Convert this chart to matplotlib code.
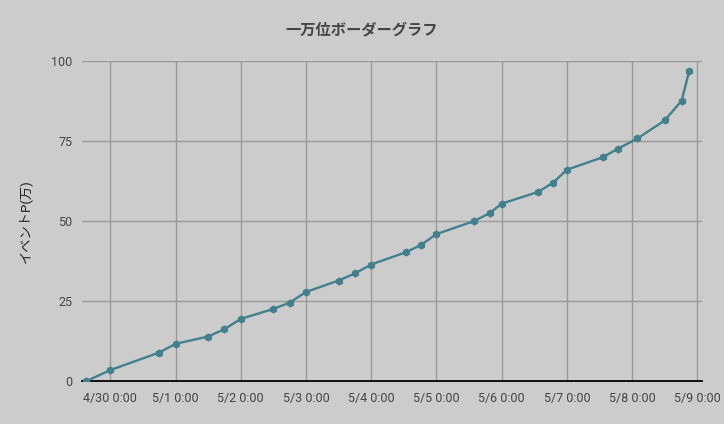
import numpy as np
import pandas as pd
import matplotlib
matplotlib.use('Agg')
import matplotlib.pyplot as plt
import matplotlib.dates as mdates

plt.rcParams['font.family'] = ['Roboto', 'Noto Sans CJK JP', 'DejaVu Sans']

# border data (time, points in 万)
times = ['2020-04-29 15:00', '2020-04-30 00:00', '2020-04-30 18:00', '2020-05-01 00:00',
         '2020-05-01 12:00', '2020-05-01 18:00', '2020-05-02 00:00', '2020-05-02 12:00',
         '2020-05-02 18:00', '2020-05-03 00:00', '2020-05-03 12:00', '2020-05-03 18:00',
         '2020-05-04 00:00', '2020-05-04 13:00', '2020-05-04 18:30', '2020-05-05 00:00',
         '2020-05-05 14:00', '2020-05-05 19:40', '2020-05-06 00:00', '2020-05-06 13:30',
         '2020-05-06 19:00', '2020-05-07 00:00', '2020-05-07 13:10', '2020-05-07 18:40',
         '2020-05-08 02:00', '2020-05-08 12:00', '2020-05-08 18:15', '2020-05-08 21:05']
points = [0, 3.5, 9.0, 11.7, 14.0, 16.3, 19.5, 22.6, 24.6, 27.9, 31.5, 33.7,
          36.5, 40.4, 42.7, 46.0, 50.1, 52.6, 55.5, 59.2, 62.1, 66.1, 70.0, 72.6,
          75.9, 81.5, 87.7, 97.1]
tick_days = pd.date_range('2020-04-30', '2020-05-09', freq='D')
tick_labels = [f'{d.month}/{d.day} 0:00' for d in tick_days]

bg = '#cccccc'
fig = plt.figure(figsize=(7.24, 4.24), dpi=100, facecolor=bg)
ax = fig.add_axes([82/724, 1 - 381.3/424, 620/724, 320/424], facecolor=bg)

t = pd.to_datetime(times)
ax.plot(t, points, color='#41808c', lw=1.7, marker='h', ms=4.8, zorder=3)

ax.set_xlim(pd.Timestamp('2020-04-29 13:35'), pd.Timestamp('2020-05-09 01:45'))
ax.set_ylim(0, 100)
ax.set_xticks(tick_days)
ax.set_xticklabels(tick_labels)
ax.set_yticks([0, 25, 50, 75, 100])
ax.grid(True, color='#999999', lw=1)
ax.set_axisbelow(True)
for s in ['top', 'right', 'left']:
    ax.spines[s].set_visible(False)
ax.spines['bottom'].set_color('black')
ax.spines['bottom'].set_linewidth(1.3)
ax.tick_params(length=0, labelsize=9, colors='#444444')
ax.tick_params(axis='x', pad=8)
ax.tick_params(axis='y', pad=7)

ax.set_ylabel('イベントP(万)', fontsize=9.5, color='#222222', labelpad=14)
fig.text(0.5, 1 - 30/424, '一万位ボーダーグラフ', ha='center', va='center',
         fontsize=11, fontweight='bold', color='#444444')

fig.savefig('out.png', dpi=100, facecolor=bg)
